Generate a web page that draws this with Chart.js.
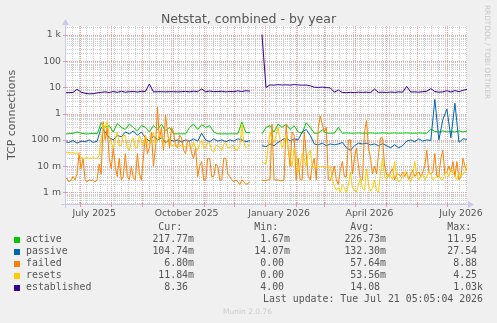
<!DOCTYPE html>
<html><head><meta charset="utf-8">
<script src="https://cdn.jsdelivr.net/npm/chart.js@4"></script>
<style>html,body{margin:0;padding:0;background:#F0F0F0;overflow:hidden}canvas{display:block}</style>
</head><body>
<canvas id="c" width="497" height="323"></canvas>
<script>
// x positions: days since 2025-06-16 (4-day samples)
const dayOffsets = [0,4,8,12,16,20,24,28,32,36,40,44,48,52,56,60,64,68,72,76,80,84,88,92,96,100,104,108,112,116,120,124,128,132,136,140,144,148,152,156,160,164,168,172,176,180,184,188,192,196,200,204,208,212,216,220,224,228,232,236,240,244,248,252,256,260,264,268,272,276,280,284,288,292,296,300,304,308,312,316,320,324,328,332,336,340,344,348,352,356,360,364,368,372,376,380,384,388,392,396,400];
// 2-day samples (for the noisier series)
const dayOffsets2 = [0,2,4,6,8,10,12,14,16,18,20,22,24,26,28,30,32,34,36,38,40,42,44,46,48,50,52,54,56,58,60,62,64,66,68,70,72,74,76,78,80,82,84,86,88,90,92,94,96,98,100,102,104,106,108,110,112,114,116,118,120,122,124,126,128,130,132,134,136,138,140,142,144,146,148,150,152,154,156,158,160,162,164,166,168,170,172,174,176,178,180,182,184,186,188,190,192,194,196,198,200,202,204,206,208,210,212,214,216,218,220,222,224,226,228,230,232,234,236,238,240,242,244,246,248,250,252,254,256,258,260,262,264,266,268,270,272,274,276,278,280,282,284,286,288,290,292,294,296,298,300,302,304,306,308,310,312,314,316,318,320,322,324,326,328,330,332,334,336,338,340,342,344,346,348,350,352,354,356,358,360,362,364,366,368,370,372,374,376,378,380,382,384,386,388,390,392,394,396,398,400];

const active = [
0.17,0.17,0.18,0.2,0.18,0.17,0.17,0.18,0.17,0.45,
0.3,0.35,0.2,0.42,0.3,0.25,0.4,0.3,0.22,0.35,
0.3,0.2,0.35,0.25,0.4,0.22,0.3,0.17,0.17,0.17,
0.17,0.3,0.4,0.25,0.38,0.3,0.35,0.2,0.17,0.17,
0.17,0.17,0.17,0.17,0.48,0.19,0.19,null,null,0.17,
0.3,0.35,0.2,0.4,0.3,0.4,0.25,0.35,0.2,0.18,
0.45,0.3,0.18,0.18,0.24,0.18,0.18,0.18,0.3,0.18,
0.185,0.18,0.18,0.185,0.18,0.18,0.185,0.18,0.18,0.185,
0.18,0.18,0.185,0.18,0.18,0.185,0.18,0.18,0.185,0.18,
0.18,0.26,0.21,0.2,0.22,0.2,0.21,0.2,0.22,0.2,
0.218];

const passive = [
0.085,0.08,0.095,0.075,0.09,0.085,0.1,0.08,0.09,0.3,
0.2,0.12,0.1,0.15,0.13,0.2,0.17,0.22,0.15,0.2,
0.12,0.09,0.14,0.1,0.12,0.08,0.1,0.09,0.1,0.085,
0.1,0.09,0.11,0.09,0.18,0.1,0.085,0.11,0.09,0.1,
0.085,0.1,0.09,0.11,0.1,0.085,0.095,null,null,0.06,
0.055,0.07,0.06,0.08,0.1,0.12,0.09,0.11,0.1,0.2,
0.25,0.15,0.07,0.065,0.075,0.06,0.07,0.065,0.07,0.08,
0.05,0.04,0.06,0.075,0.07,0.075,0.065,0.07,0.06,0.072,
0.06,0.05,0.065,0.05,0.06,0.09,0.1,0.085,0.11,0.09,
0.1,0.095,3.5,0.1,0.6,1.5,0.12,2.5,0.08,0.11,
0.105];

const failed = [
0.003,0.0035,0.0025,0.003,0.004,0.003,0.005,0.03,0.008,0.02,
0.003,0.0025,0.003,0.0028,0.003,0.0025,0.003,0.012,0.005,0.5,
0.1,0.3,0.02,0.008,0.05,0.01,0.004,0.02,0.003,0.004,
0.03,0.004,0.003,0.01,0.0035,0.003,0.03,0.005,0.003,0.02,
0.15,0.03,0.05,0.2,0.01,0.05,1.8,0.1,0.3,0.04,
0.9,0.2,0.05,0.3,0.2,0.06,0.05,0.15,0.12,0.04,
0.03,0.1,0.08,0.03,0.02,0.05,0.004,0.01,0.015,0.003,
0.003,0.02,0.02,0.004,0.004,0.012,0.01,0.003,0.003,0.02,
0.02,0.005,0.004,0.003,0.0025,0.003,0.0025,0.002,0.003,0.0025,
0.002,0.0022,0.0025,null,null,null,null,null,0.003,0.0028,
0.0028,0.003,0.003,0.4,0.003,0.003,0.003,0.0028,0.0028,0.003,
0.4,0.05,0.01,0.2,0.15,0.003,0.02,0.003,0.003,0.2,
0.03,0.004,0.003,0.01,0.02,0.003,0.3,0.8,0.4,0.2,
0.3,0.003,0.0028,0.005,0.01,0.003,0.002,0.008,0.015,0.004,
0.004,0.1,0.1,0.005,0.02,0.05,0.01,0.003,0.003,0.2,
0.55,0.05,0.02,0.005,0.01,0.005,0.03,0.12,0.12,0.01,
0.005,0.004,0.006,0.008,0.003,0.005,0.005,0.004,0.006,0.004,
0.006,0.003,0.005,0.007,0.004,0.005,0.006,0.004,0.006,0.01,
0.04,0.006,0.005,0.006,0.03,0.004,0.004,0.02,0.04,0.005,
0.006,0.01,0.006,0.015,0.004,0.015,0.003,0.004,0.02,0.01,
0.0068];

const resets = [
0.033,0.034,0.033,0.032,0.033,0.031,0.032,0.03,0.021,0.02,
0.02,0.021,0.02,0.02,0.021,0.02,0.02,0.025,0.1,0.4,
0.3,0.5,0.15,0.08,0.05,0.1,0.2,0.06,0.06,0.15,
0.15,0.05,0.04,0.08,0.12,0.05,0.05,0.15,0.1,0.06,
0.15,0.08,0.06,0.12,0.2,0.07,0.1,0.15,0.15,0.06,
0.07,0.1,0.12,0.06,0.06,0.07,0.055,0.06,0.065,0.06,
0.05,0.06,0.06,0.05,0.08,0.05,0.04,0.07,0.1,0.05,
0.05,0.08,0.07,0.04,0.035,0.06,0.06,0.05,0.04,0.07,
0.08,0.05,0.05,0.06,0.06,0.04,0.045,0.06,0.4,0.08,
0.05,0.06,0.06,null,null,null,null,null,0.015,0.013,
0.012,0.05,0.2,0.1,0.08,0.15,0.3,0.1,0.05,0.08,
0.15,0.05,0.02,0.01,0.05,0.03,0.006,0.01,0.03,0.02,
0.01,0.03,0.04,0.01,0.0095,0.0095,0.0095,0.0098,0.0098,0.0092,
0.0092,0.0095,0.0095,0.003,0.0018,0.0012,0.0015,0.001,0.002,0.0015,
0.001,0.002,0.006,0.0015,0.0012,0.001,0.002,0.0035,0.0014,0.0012,
0.008,0.002,0.0011,0.0015,0.003,0.0012,0.001,0.006,0.02,0.004,
0.003,0.005,0.004,0.003,0.015,0.004,0.0025,0.003,0.004,0.006,
0.006,0.003,0.0025,0.004,0.015,0.005,0.003,0.004,0.005,0.003,
0.004,0.006,0.005,0.003,0.0035,0.004,0.005,0.003,0.003,0.005,
0.006,0.004,0.008,0.006,0.004,0.003,0.006,0.004,0.005,0.006,
0.0118];

const established = [
6.3,6.3,6.5,8.5,6.6,6.0,5.7,5.8,6.2,6.5,
6.8,6.4,7.0,6.5,7.2,6.6,6.9,7.0,6.7,7.1,
7.0,13.5,6.8,6.9,6.9,6.8,6.9,6.9,6.8,6.9,
7.1,6.8,7.2,6.9,8.8,6.8,7.3,6.9,7.0,7.1,
6.8,7.0,6.9,7.4,7.0,7.5,7.2,null,null,1030,
10,12.5,12.2,12.8,12.4,12.6,12.3,12.8,12.5,12.2,
12.4,11.5,10.2,10.0,10.3,9.9,9.6,6.6,8.0,6.4,
6.3,6.5,6.4,6.6,6.5,6.6,6.4,8.6,6.5,6.6,
6.4,6.7,6.5,6.8,6.6,11.0,6.7,6.8,6.6,6.9,
7.2,9.0,7.0,6.6,6.8,7.5,6.7,7.6,6.9,7.8,
8.36];

const seriesNames = ['active','passive','failed','resets','established'];
const seriesColors = ['#00CC00','#0066B3','#FF8000','#FFCC00','#330099'];
const curVals = ['217.77m','104.74m','  6.80m',' 11.84m','  8.36 '];
const minVals = ['  1.67m',' 14.07m','  0.00 ','  0.00 ','  4.00 '];
const avgVals = ['226.73m','132.30m',' 57.64m',' 53.56m',' 14.08 '];
const maxVals = [' 11.95 ',' 27.54 ','  8.88 ','  4.25 ','  1.03k'];

const yTickValues = [0.001,0.01,0.1,1,10,100,1000];
const yTickLabels = ['1 m','10 m','100 m','1','10','100','1 k'];
const xTickLabels = ['July 2025','October 2025','January 2026','April 2026','July 2026'];
const xTickDays = [29,121,213,303,394];
const monthStartDays = [15,46,77,107,138,168,199,230,258,289,319,350,380];

const seriesData = [active, passive, failed, resets, established];
const seriesX = [dayOffsets, dayOffsets, dayOffsets2, dayOffsets2, dayOffsets];
const drawOrder = [4,3,2,1,0];

const datasets = seriesData.map((arr, k) => ({
  label: seriesNames[k],
  data: arr.map((v, i) => ({x: seriesX[k][i], y: v})),
  borderColor: seriesColors[k],
  backgroundColor: seriesColors[k],
  borderWidth: 1,
  pointRadius: 0,
  tension: 0,
  fill: false,
  spanGaps: false,
  order: drawOrder[k]
}));

const SANS = '"DejaVu Sans", sans-serif';
const MONO = '"DejaVu Sans Mono", monospace';

const muninPlugin = {
  id: 'munin',
  beforeDraw(chart) {
    const {ctx, chartArea: a} = chart;
    ctx.save();
    ctx.fillStyle = '#F0F0F0';
    ctx.fillRect(0, 0, chart.width, chart.height);
    ctx.fillStyle = '#FFFFFF';
    ctx.fillRect(a.left, a.top, a.right - a.left, a.bottom - a.top);
    ctx.restore();
  },
  beforeDatasetsDraw(chart) {
    const {ctx, chartArea: a, scales: {x, y}} = chart;
    ctx.save();
    ctx.lineWidth = 1;
    ctx.setLineDash([1, 1]);
    const vline = (px, col) => { ctx.strokeStyle = col; ctx.beginPath(); ctx.moveTo(px, a.top); ctx.lineTo(px, a.bottom); ctx.stroke(); };
    const hline = (py, col) => { ctx.strokeStyle = col; ctx.beginPath(); ctx.moveTo(a.left, py); ctx.lineTo(a.right, py); ctx.stroke(); };
    const minorCol = 'rgb(205,205,205)';
    const majorCol = 'rgb(238,160,160)';
    for (let d = 0; d <= 400; d += 7) {
      vline(Math.round(x.getPixelForValue(d)) + 0.5, minorCol);
    }
    for (let e = -4; e <= 3; e++) {
      for (let m = 2; m <= 9; m++) {
        const v = m * Math.pow(10, e);
        if (v < y.min || v > y.max) continue;
        hline(Math.round(y.getPixelForValue(v)) + 0.5, minorCol);
      }
    }
    monthStartDays.forEach(d => vline(Math.round(x.getPixelForValue(d)) + 0.5, majorCol));
    yTickValues.forEach(v => hline(Math.round(y.getPixelForValue(v)) + 0.5, majorCol));
    ctx.restore();
  },
  afterDatasetsDraw(chart) {
    const {ctx, chartArea: a, scales: {x, y}} = chart;
    ctx.save();
    // axes
    const axCol = '#C8C8F0';
    ctx.strokeStyle = axCol; ctx.fillStyle = axCol; ctx.lineWidth = 1;
    ctx.beginPath();
    ctx.moveTo(a.left - 4, a.bottom + 0.5); ctx.lineTo(a.right + 2, a.bottom + 0.5);
    ctx.moveTo(a.left + 0.5, a.bottom + 4); ctx.lineTo(a.left + 0.5, a.top - 2);
    ctx.stroke();
    ctx.beginPath();
    ctx.moveTo(a.right + 1, a.bottom - 3); ctx.lineTo(a.right + 7, a.bottom + 0.5); ctx.lineTo(a.right + 1, a.bottom + 4); ctx.closePath(); ctx.fill();
    ctx.beginPath();
    ctx.moveTo(a.left - 3, a.top - 1); ctx.lineTo(a.left + 0.5, a.top - 7); ctx.lineTo(a.left + 4, a.top - 1); ctx.closePath(); ctx.fill();
    // small tick marks
    ctx.strokeStyle = 'rgb(238,150,150)';
    ctx.beginPath();
    monthStartDays.forEach(d => { const px = Math.round(x.getPixelForValue(d)) + 0.5; ctx.moveTo(px, a.bottom - 2); ctx.lineTo(px, a.bottom + 3); });
    yTickValues.forEach(v => { const py = Math.round(y.getPixelForValue(v)) + 0.5; ctx.moveTo(a.left - 2, py); ctx.lineTo(a.left + 3, py); });
    ctx.stroke();

    // tick labels
    ctx.fillStyle = '#555555';
    ctx.font = '9.3px ' + SANS;
    ctx.textAlign = 'right'; ctx.textBaseline = 'middle';
    yTickValues.forEach((v, i) => ctx.fillText(yTickLabels[i], a.left - 4, y.getPixelForValue(v)));
    ctx.textAlign = 'center'; ctx.textBaseline = 'alphabetic';
    xTickDays.forEach((d, i) => ctx.fillText(xTickLabels[i], x.getPixelForValue(d), 215.5));

    // title
    ctx.font = '12.5px ' + SANS;
    ctx.fillText('Netstat, combined - by year', 248.5, 22.5);

    // y axis title
    ctx.save();
    ctx.translate(15, 115);
    ctx.rotate(-Math.PI / 2);
    ctx.font = '11px ' + SANS;
    ctx.textAlign = 'center'; ctx.textBaseline = 'alphabetic';
    ctx.fillText('TCP connections', 0, 0);
    ctx.restore();

    // rrdtool credit
    ctx.save();
    ctx.translate(485, 5);
    ctx.rotate(Math.PI / 2);
    ctx.font = '7.3px ' + SANS;
    ctx.fillStyle = '#C8C8C8';
    ctx.textAlign = 'left'; ctx.textBaseline = 'alphabetic';
    ctx.fillText('RRDTOOL / TOBI OETIKER', 0, 0);
    ctx.restore();

    // legend table
    ctx.font = '9.9px ' + MONO;
    ctx.fillStyle = '#555555';
    ctx.textBaseline = 'middle';
    ctx.textAlign = 'right';
    const colRight = [194, 290, 386, 483];
    const headers = ['Cur:', 'Min:', 'Avg:', 'Max:'];
    headers.forEach((h, j) => ctx.fillText(h + '  ', colRight[j], 227));
    const cols = [curVals, minVals, avgVals, maxVals];
    seriesNames.forEach((n, k) => {
      const ry = 239.5 + k * 12;
      ctx.fillStyle = seriesColors[k];
      ctx.fillRect(14, Math.round(ry) - 3, 6, 6);
      ctx.fillStyle = '#555555';
      ctx.textAlign = 'left';
      ctx.fillText(n, 26, ry);
      ctx.textAlign = 'right';
      cols.forEach((c, j) => ctx.fillText(c[k], colRight[j], ry));
    });
    ctx.fillText('Last update: Tue Jul 21 05:05:04 2026', 483, 299.5);
    ctx.font = '7.5px ' + SANS;
    ctx.fillStyle = '#CCCCCC';
    ctx.textAlign = 'center';
    ctx.fillText('Munin 2.0.76', 247.5, 312.5);
    ctx.restore();
  }
};

new Chart(document.getElementById('c'), {
  type: 'line',
  data: { datasets },
  options: {
    responsive: false,
    animation: false,
    devicePixelRatio: 1,
    layout: { padding: { left: 65, right: 30, top: 26, bottom: 119 } },
    plugins: { legend: { display: false }, tooltip: { enabled: false }, title: { display: false } },
    scales: {
      x: { type: 'linear', min: 0, max: 400, display: false },
      y: { type: 'logarithmic', min: 3.6e-4, max: 2.2e3, display: false }
    }
  },
  plugins: [muninPlugin]
});
</script>
</body></html>
